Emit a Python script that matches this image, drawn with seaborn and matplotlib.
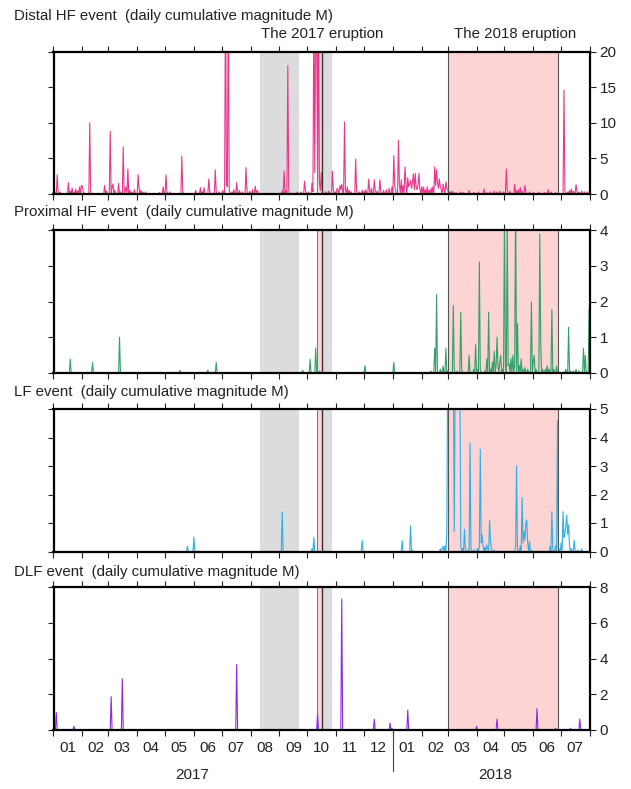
import pandas as pd
import matplotlib
matplotlib.use('Agg')
import matplotlib.pyplot as plt
import matplotlib.dates as mdates
import seaborn as sns

START = pd.Timestamp('2017-01-01')
END = pd.Timestamp('2018-08-01')

# days are counted from 2017-01-01, values are daily cumulative magnitude M
distal_day = [0, 1, 4, 7, 16, 18, 20, 22, 24, 26, 28, 30, 31, 32, 39, 55, 57, 61, 63, 64,
              66, 70, 72, 75, 77, 78, 80, 82, 84, 87, 91, 92, 94, 96, 99, 114, 118, 121, 122, 125,
              138, 139, 153, 158, 160, 162, 167, 168, 174, 175, 178, 182, 185, 186, 187, 188, 189, 192, 194, 197,
              200, 203, 207, 208, 211, 214, 217, 219, 220, 246, 248, 250, 252, 253, 262, 266, 270, 271, 274, 278,
              279, 280, 281, 282, 283, 284, 285, 286, 287, 288, 289, 293, 296, 300, 301, 303, 305, 306, 308, 309,
              310, 311, 313, 314, 316, 318, 320, 325, 326, 329, 332, 334, 336, 339, 340, 342, 345, 346, 348, 351,
              352, 355, 358, 361, 364, 366, 367, 368, 371, 372, 374, 376, 378, 379, 381, 382, 383, 384, 385, 386,
              387, 388, 389, 390, 391, 392, 393, 394, 396, 398, 400, 402, 404, 406, 408, 410, 411, 412, 413, 414,
              415, 416, 417, 419, 420, 422, 423, 424, 426, 428, 430, 433, 438, 441, 447, 452, 457, 463, 466, 470,
              474, 477, 480, 484, 487, 488, 491, 496, 498, 500, 502, 504, 507, 508, 512, 516, 522, 528, 532, 535,
              540, 549, 550, 553, 555, 557, 559, 562, 563, 565, 568, 571, 574]
distal_val = [2.0, 0.5, 2.7, 0.3, 1.6, 0.4, 0.85, 0.3, 0.7, 0.4, 1.0, 1.2, 1.1, 0.3, 10.0, 1.2, 0.4, 8.8, 1.0, 1.4,
              0.5, 1.5, 0.3, 6.6, 0.5, 1.0, 3.5, 0.5, 0.3, 0.6, 2.7, 0.8, 0.5, 0.3, 0.3, 0.2, 1.0, 2.7, 0.3, 0.3,
              5.3, 0.3, 0.5, 0.9, 0.3, 0.9, 2.1, 0.4, 3.4, 0.3, 0.3, 0.5, 30, 1.5, 1.0, 30, 0.5, 0.3, 0.6, 1.6,
              0.5, 0.3, 3.7, 0.5, 0.4, 0.6, 1.1, 0.5, 0.3, 0.4, 3.2, 0.5, 18.0, 0.6, 0.3, 0.3, 1.8, 0.5, 0.3, 1.5,
              0.3, 25, 3.0, 28, 22, 2.0, 26, 1.5, 0.5, 3.0, 0.5, 0.3, 0.4, 3.2, 0.5, 0.3, 0.8, 0.5, 1.2, 0.6,
              1.4, 0.3, 10.1, 0.6, 1.0, 0.5, 0.3, 4.9, 0.3, 0.3, 0.5, 0.4, 0.6, 2.1, 0.4, 0.8, 2.0, 0.5, 0.4, 2.0,
              0.3, 0.5, 0.6, 0.8, 1.0, 5.4, 1.0, 0.5, 7.5, 1.5, 2.0, 1.2, 3.8, 1.5, 2.3, 1.0, 1.4, 1.9, 0.8, 1.5,
              2.8, 0.6, 2.9, 1.0, 0.6, 1.2, 2.9, 0.8, 1.0, 1.0, 0.6, 1.0, 0.5, 0.8, 1.0, 3.8, 1.2, 3.4, 1.5, 0.8,
              2.1, 1.0, 0.6, 1.4, 0.8, 1.7, 0.8, 0.6, 0.3, 0.4, 0.3, 0.2, 0.3, 0.2, 0.5, 0.2, 0.3, 0.7, 0.2, 0.3,
              0.4, 0.3, 0.4, 0.3, 3.5, 0.5, 0.4, 1.4, 0.5, 0.6, 0.9, 0.4, 1.2, 0.3, 0.3, 0.2, 0.3, 0.2, 0.6, 0.3,
              0.2, 14.6, 0.5, 0.3, 0.5, 0.7, 0.4, 1.3, 0.4, 0.3, 0.4, 0.3, 0.3]

proximal_day = [18, 42, 71, 136, 166, 175, 268, 276, 282, 286, 335, 366, 406, 410, 412, 416, 419, 422, 424, 430,
                431, 434, 438, 439, 447, 452, 454, 456, 458, 459, 464, 466, 468, 470, 472, 474, 476, 477, 478, 480,
                481, 483, 485, 486, 488, 489, 490, 492, 494, 496, 497, 499, 501, 503, 505, 507, 510, 514, 516, 517,
                519, 523, 524, 526, 529, 531, 533, 536, 538, 541, 551, 554, 556, 559, 562, 565, 570, 572, 576]
proximal_val = [0.38, 0.29, 1.0, 0.07, 0.07, 0.29, 0.07, 0.38, 0.7, 0.05, 0.2, 0.29, 0.05, 0.69, 2.2, 0.1, 0.19, 0.69, 0.05, 1.89,
                0.1, 0.05, 1.7, 0.1, 0.49, 0.1, 0.79, 0.1, 3.11, 0.1, 0.05, 0.39, 1.7, 0.1, 0.3, 0.6, 0.2, 1.0, 0.2, 0.3,
                0.49, 0.1, 4.5, 0.3, 4.3, 0.2, 0.25, 0.4, 0.49, 0.2, 5.0, 1.38, 0.2, 0.39, 0.1, 0.15, 0.1, 1.99, 0.3, 0.49,
                0.1, 3.9, 0.79, 0.1, 0.1, 0.2, 0.1, 1.78, 0.1, 0.19, 0.1, 1.28, 0.05, 0.05, 0.1, 0.05, 0.69, 0.49, 1.78]

lf_day = [144, 151, 246, 278, 280, 332, 375, 384, 386, 416, 418, 419, 421, 423, 424, 425, 426, 427, 428, 429,
          430, 431, 432, 433, 434, 435, 436, 437, 438, 440, 442, 443, 446, 448, 449, 452, 456, 458, 459, 460,
          461, 462, 464, 466, 467, 469, 470, 471, 474, 497, 498, 499, 502, 504, 505, 506, 507, 508, 509, 510,
          512, 514, 534, 536, 537, 540, 542, 543, 546, 548, 549, 550, 551, 552, 553, 554, 555, 557, 560, 561,
          564, 568]
lf_val = [0.19, 0.5, 1.39, 0.1, 0.49, 0.38, 0.38, 0.9, 0.05, 0.09, 0.12, 0.18, 0.2, 0.7, 7.0, 6.5, 8.0, 6.0, 7.0, 6.0,
          6.5, 0.7, 6.0, 7.0, 6.0, 8.0, 6.0, 7.0, 0.2, 0.1, 0.78, 0.1, 0.05, 3.8, 0.1, 0.05, 0.1, 0.18, 3.59, 0.3,
          0.58, 0.2, 0.15, 0.23, 0.1, 1.09, 0.4, 0.1, 0.05, 0.18, 3.0, 0.1, 0.2, 1.89, 0.3, 0.7, 0.4, 1.0, 1.1, 0.3,
          0.35, 0.05, 0.18, 1.4, 0.1, 0.2, 4.6, 0.2, 0.3, 1.4, 0.5, 0.64, 0.9, 1.28, 0.6, 0.93, 0.18, 0.1, 0.39, 0.05,
          0.05, 0.09]

dlf_day = [3, 22, 62, 74, 197, 284, 310, 345, 362, 364, 381, 455, 477, 520, 540, 556, 566]
dlf_val = [0.97, 0.19, 1.86, 2.87, 3.67, 0.87, 7.35, 0.6, 0.37, 0.07, 1.1, 0.19, 0.6, 1.19, 0.09, 0.09, 0.6]

# periods (days from 2017-01-01)
gray_periods = [(222, 264), (289, 299)]
eruption_periods = [(283, 289), (424, 543)]

panels = [
    ('Distal HF event  (daily cumulative magnitude M)', distal_day, distal_val, '#e8388c', 20, [0, 5, 10, 15, 20]),
    ('Proximal HF event  (daily cumulative magnitude M)', proximal_day, proximal_val, '#34a06a', 4, [0, 1, 2, 3, 4]),
    ('LF event  (daily cumulative magnitude M)', lf_day, lf_val, '#2db0e6', 5, [0, 1, 2, 3, 4, 5]),
    ('DLF event  (daily cumulative magnitude M)', dlf_day, dlf_val, '#8a2be2', 8, [0, 2, 4, 6, 8]),
]


def to_date(d):
    return START + pd.Timedelta(days=d)


def daily_frame(days, vals):
    idx = pd.date_range(START, END, freq='D')
    s = pd.Series(0.0, index=idx)
    s.iloc[days] = vals
    return pd.DataFrame({'date': idx, 'M': s.values})


sns.set_theme(style='ticks')
plt.rcParams['font.family'] = ['Liberation Sans', 'DejaVu Sans']

W, H = 631, 789
fig = plt.figure(figsize=(W / 100, H / 100), dpi=100)

left, right = 53.5 / W, 590 / W
tops = [51.5, 230.3, 409.0, 587.3]
title_y = [16, 212, 392, 572]
height_px = 142.5

for i, (title, days, vals, color, ymax, yticks) in enumerate(panels):
    top = tops[i]
    ax = fig.add_axes([left, 1 - (top + height_px) / H, right - left, height_px / H])

    for a, b in gray_periods:
        ax.axvspan(to_date(a), to_date(b), color='#dcdcde', lw=0, zorder=0)
    for a, b in eruption_periods:
        ax.axvspan(to_date(a), to_date(b), color='#fcd4d4', lw=0, zorder=0)
    ax.axvline(to_date(283), color='#777777', lw=0.7, zorder=1)
    ax.axvline(to_date(289), color='#333333', lw=1.0, zorder=3)
    ax.axvline(to_date(424), color='#555555', lw=0.8, zorder=3)
    ax.axvline(to_date(543), color='#555555', lw=0.8, zorder=3)

    df = daily_frame(days, vals)
    sns.lineplot(data=df, x='date', y='M', ax=ax, color=color, lw=0.8, zorder=2)

    ax.set_xlim(START, END)
    ax.set_ylim(0, ymax)
    ax.set_xlabel('')
    ax.set_ylabel('')
    ax.set_yticks(yticks)
    ax.tick_params(axis='y', left=True, right=True, labelleft=False, labelright=True,
                   direction='out', length=4, width=0.8, labelsize=11, pad=3, colors='#222222')
    ax.xaxis.set_major_locator(mdates.MonthLocator())
    ax.xaxis.set_minor_locator(mdates.MonthLocator(bymonthday=16))
    ax.xaxis.set_major_formatter(plt.NullFormatter())
    ax.tick_params(axis='x', which='major', top=True, bottom=True, direction='out',
                   length=4, width=0.8, colors='#222222')
    ax.tick_params(axis='x', which='minor', length=0, bottom=True, top=False)
    if i == 3:
        ax.xaxis.set_minor_formatter(mdates.DateFormatter('%m'))
        ax.tick_params(axis='x', which='minor', labelsize=11, pad=8, labelcolor='#222222')
    else:
        ax.xaxis.set_minor_formatter(plt.NullFormatter())
    for sp in ax.spines.values():
        sp.set_linewidth(1.6)
        sp.set_color('black')
        sp.set_zorder(5)

    fig.text(14 / W, 1 - title_y[i] / H, title, fontsize=10.8, va='center', ha='left', color='#222222')

    if i == 3:
        ax.plot([to_date(365), to_date(365)], [0, -0.29], transform=ax.get_xaxis_transform(),
                color='#444444', lw=0.8, clip_on=False)
        fig.text(192 / W, 1 - 775 / H, '2017', fontsize=11, ha='center', va='center', color='#222222')
        fig.text(495 / W, 1 - 775 / H, '2018', fontsize=11, ha='center', va='center', color='#222222')

fig.text(322 / W, 1 - 34 / H, 'The 2017 eruption', fontsize=10.8, ha='center', va='center', color='#222222')
fig.text(515 / W, 1 - 34 / H, 'The 2018 eruption', fontsize=10.8, ha='center', va='center', color='#222222')

fig.savefig('out.png', dpi=100)
